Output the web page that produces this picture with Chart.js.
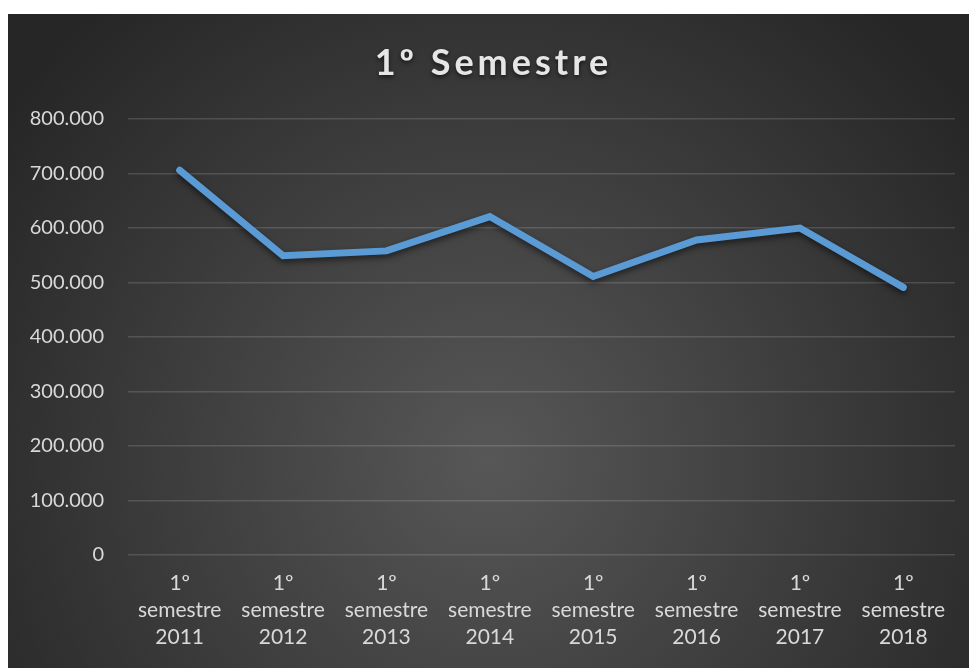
<!DOCTYPE html>
<html>
<head>
<meta charset="utf-8">
<script src="https://cdn.jsdelivr.net/npm/chart.js@4/dist/chart.umd.min.js"></script>
<style>
  html, body { margin: 0; padding: 0; background: #fff; }
  #wrap { position: absolute; left: 8px; top: 14px; width: 961px; height: 654px; }
</style>
</head>
<body>
<div id="wrap"><canvas id="my-chart"></canvas></div>
<script>
let categories = [
    ["1º", "semestre", "2011"], ["1º", "semestre", "2012"], ["1º", "semestre", "2013"],
    ["1º", "semestre", "2014"], ["1º", "semestre", "2015"], ["1º", "semestre", "2016"],
    ["1º", "semestre", "2017"], ["1º", "semestre", "2018"]
];
let values = [706000, 549000, 558000, 621000, 511000, 578000, 600000, 491000];
let titleText = "1º Semestre";
let yTicks = [0, 100000, 200000, 300000, 400000, 500000, 600000, 700000, 800000];

let fmt = v => String(v).replace(/\B(?=(\d{3})+(?!\d))/g, ".");

// dark radial background, drawn before everything
let background = {
    id: 'background',
    beforeDraw(chart) {
        let c = chart.ctx, w = chart.width, h = chart.height;
        let g = c.createRadialGradient(w * 0.5, h * 0.68, 0, w * 0.5, h * 0.68, w * 0.62);
        g.addColorStop(0, '#575757');
        g.addColorStop(1, '#262626');
        c.save();
        c.fillStyle = g;
        c.fillRect(0, 0, w, h);
        c.restore();
    }
};

// soft shadow under the line
let lineShadow = {
    id: 'lineShadow',
    beforeDatasetsDraw(chart) {
        let c = chart.ctx;
        c.save();
        c.shadowColor = 'rgba(0,0,0,0.55)';
        c.shadowBlur = 6;
        c.shadowOffsetY = 3;
    },
    afterDatasetsDraw(chart) {
        chart.ctx.restore();
    }
};

// letter-spaced title like the original
let spacedTitle = {
    id: 'spacedTitle',
    afterDraw(chart) {
        let c = chart.ctx;
        c.save();
        c.font = 'bold 36px Lato';
        c.letterSpacing = '4px';
        c.fillStyle = '#e6e6e6';
        c.textAlign = 'center';
        c.textBaseline = 'alphabetic';
        c.shadowColor = 'rgba(0,0,0,0.6)';
        c.shadowBlur = 4;
        c.shadowOffsetY = 2;
        c.fillText(titleText, chart.width / 2 + 5, 61);
        c.restore();
    }
};

let ctx = document.getElementById('my-chart').getContext('2d');

let chart = new Chart(ctx, {
    type: 'line',
    data: {
        labels: categories,
        datasets: [{
            data: values,
            borderColor: '#5b9bd5',
            borderWidth: 7,
            pointRadius: 0,
            pointHoverRadius: 0,
            tension: 0,
            borderCapStyle: 'round',
            borderJoinStyle: 'miter'
        }]
    },
    options: {
        responsive: true,
        maintainAspectRatio: false,
        animation: false,
        layout: {
            padding: { top: 105, right: 14, bottom: 0, left: 0 }
        },
        plugins: {
            legend: { display: false },
            title: { display: false },
            tooltip: { enabled: false }
        },
        scales: {
            x: {
                offset: true,
                grid: { display: false },
                border: { display: false },
                ticks: {
                    color: '#d9d9d9',
                    font: { family: 'Lato', size: 21, lineHeight: 1.29 },
                    padding: 7,
                    maxRotation: 0,
                    autoSkip: false
                },
                afterFit(scale) { scale.height = 113; }
            },
            y: {
                min: 0,
                max: 800000,
                afterBuildTicks(scale) { scale.ticks = yTicks.map(v => ({ value: v })); },
                grid: { color: 'rgba(255,255,255,0.14)', lineWidth: 1.5, drawTicks: false },
                border: { display: false },
                ticks: {
                    color: '#d9d9d9',
                    font: { family: 'Lato', size: 20 },
                    padding: 24,
                    callback: v => fmt(v)
                },
                afterFit(scale) { scale.width = 120; }
            }
        }
    },
    plugins: [background, lineShadow, spacedTitle]
});
</script>
</body>
</html>
